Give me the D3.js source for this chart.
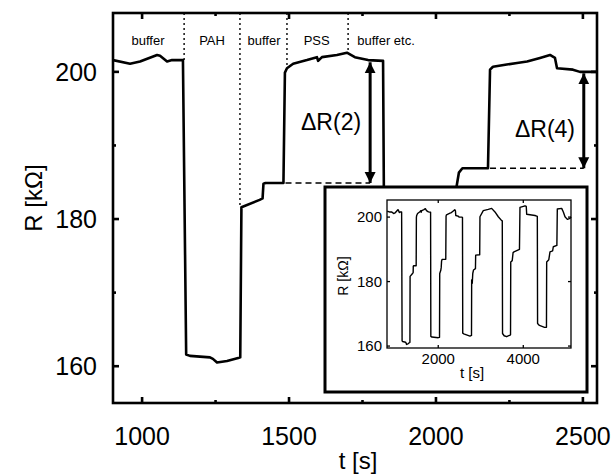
<!doctype html>
<html lang="en">
<head>
<meta charset="utf-8" />
<title>R vs t</title>
<script src="https://d3js.org/d3.v7.min.js"></script>
<style>
  body { margin: 0; background: #fff; }
  text { font-family: "Liberation Sans", Arial, sans-serif; fill: #000; }
</style>
</head>
<body>
<div id="chart"></div>
<script>
// measured resistance trace (t in s, R in kOhm)
const times = [800, 850, 901, 959, 993, 1051, 1061, 1085, 1102, 1139,
  1150, 1163, 1231, 1241, 1255, 1289, 1327, 1334,
  1338, 1400, 1410, 1413, 1420, 1481,
  1486, 1493, 1514, 1561, 1595, 1599, 1612, 1663, 1697, 1724, 1769, 1820,
  1826, 1850, 2000, 2030,
  2035, 2060, 2070, 2078, 2090, 2177,
  2184, 2194, 2241, 2276, 2310, 2354, 2388, 2405, 2412, 2466, 2490, 2548, 2570,
  2576, 2600, 2746, 2782,
  2786, 2800, 2812, 2830, 2875, 2880, 2975,
  2981, 3059, 3176, 3256, 3334, 3412, 3492, 3506,
  3512, 3550, 3609, 3687, 3700,
  3705, 3740, 3760, 3781, 3910,
  3922, 4040, 4070, 4080, 4275, 4315, 4330,
  4336, 4380, 4500, 4545,
  4550, 4600, 4628, 4690, 4706, 4790,
  4800, 4903, 4942, 4981, 5036, 5099, 5122];
const resist = [201.8, 201.6, 201.6, 201.1, 201.4, 202.3, 202.2, 201.4, 201.6, 201.6,
  161.6, 161.4, 161.2, 161.0, 160.5, 160.7, 161.1, 161.2,
  181.6, 182.6, 182.8, 184.8, 184.9, 184.9,
  199.9, 200.5, 201.1, 201.6, 202.0, 201.5, 202.0, 202.3, 202.6, 202.0, 201.6, 201.5,
  163.0, 162.8, 162.6, 162.7,
  182.5, 183.5, 184.4, 186.3, 186.9, 186.9,
  200.3, 200.7, 201.0, 201.2, 201.4, 201.9, 202.3, 201.9, 200.5, 200.3, 200.0, 200.0, 199.9,
  164.0, 163.8, 163.1, 163.3,
  180.5, 179.5, 182.5, 183.6, 184.0, 188.2, 188.3,
  200.1, 202.0, 202.4, 202.7, 201.6, 200.1, 198.9, 198.8,
  163.9, 163.2, 162.9, 163.4, 163.5,
  186.1, 186.5, 189.0, 189.2, 190.0,
  203.0, 203.5, 203.3, 200.9, 200.5, 200.3, 200.2,
  167.0, 166.4, 165.8, 165.8,
  186.1, 186.8, 189.2, 189.5, 190.8, 191.2,
  202.5, 202.7, 201.6, 200.1, 199.3, 199.6, 200.1];

// solution phases
const dividerT = [1143, 1333, 1493, 1701];
const dividerR = [201.6, 181.6, 200.4, 202.6];
const phaseNames = ["buffer", "PAH", "buffer", "PSS", "buffer etc."];
const phaseT = [1020, 1238, 1415, 1594, 1830];

// Delta R annotations
const deltaNames = ["\u0394R(2)", "\u0394R(4)"];
const deltaT = [1776, 2503];
const deltaTop = [201.3, 199.8];
const deltaBase = [184.9, 186.9];
const deltaStart = [1488, 2184];
const deltaLabelT = [1643, 2371];
const deltaLabelR = [192.1, 191.2];

const xTicks = [1000, 1500, 2000, 2500];
const xMinor = [1250, 1750, 2250];
const yTicks = [160, 180, 200];
const yMinor = [170, 190];
const insetXTicks = [2000, 4000];
const insetYTicks = [160, 180, 200];

const data = times.map((t, i) => ({ t: t, r: resist[i] }));

const W = 614, H = 475;
const margin = { top: 13, right: 17, bottom: 72, left: 113 },
  width = W - margin.left - margin.right,
  height = H - margin.top - margin.bottom;

const svg = d3.select("#chart").append("svg")
  .attr("width", W).attr("height", H);

const defs = svg.append("defs");
defs.append("clipPath").attr("id", "clipMain")
  .append("rect").attr("width", width).attr("height", height);
defs.append("marker").attr("id", "head")
  .attr("viewBox", "0 0 10 10")
  .attr("refX", 10).attr("refY", 5)
  .attr("markerUnits", "userSpaceOnUse")
  .attr("markerWidth", 11).attr("markerHeight", 12)
  .attr("orient", "auto-start-reverse")
  .append("path").attr("d", "M0,0L10,5L0,10z").attr("fill", "#000");

const g = svg.append("g").attr("transform", `translate(${margin.left},${margin.top})`);

const x = d3.scaleLinear().domain([901, 2548]).range([0, width]);
const y = d3.scaleLinear().domain([155, 208]).range([height, 0]);

// dotted phase dividers
g.selectAll(".divider").data(dividerT).enter().append("line")
  .attr("x1", d => x(d)).attr("x2", d => x(d))
  .attr("y1", 0).attr("y2", (d, i) => y(dividerR[i]))
  .attr("stroke", "#000").attr("stroke-width", 1.4)
  .attr("stroke-dasharray", "2,3");

g.selectAll(".phase").data(phaseNames).enter().append("text")
  .attr("x", (d, i) => x(phaseT[i]))
  .attr("y", y(203.7))
  .attr("text-anchor", "middle")
  .style("font-size", "13px")
  .text(d => d);

const line = d3.line().x(d => x(d.t)).y(d => y(d.r));
g.append("path").datum(data)
  .attr("clip-path", "url(#clipMain)")
  .attr("fill", "none").attr("stroke", "#000")
  .attr("stroke-width", 2.6).attr("stroke-linejoin", "round")
  .attr("d", line);

// dashed baselines + double arrows
g.selectAll(".base").data(deltaT).enter().append("line")
  .attr("x1", (d, i) => x(deltaStart[i])).attr("x2", d => x(d))
  .attr("y1", (d, i) => y(deltaBase[i])).attr("y2", (d, i) => y(deltaBase[i]))
  .attr("stroke", "#000").attr("stroke-width", 1.4)
  .attr("stroke-dasharray", "6,4");

g.selectAll(".arrow").data(deltaT).enter().append("line")
  .attr("x1", d => x(d)).attr("x2", d => x(d))
  .attr("y1", (d, i) => y(deltaTop[i])).attr("y2", (d, i) => y(deltaBase[i]))
  .attr("stroke", "#000").attr("stroke-width", 3)
  .attr("marker-start", "url(#head)").attr("marker-end", "url(#head)");

g.selectAll(".dlabel").data(deltaNames).enter().append("text")
  .attr("x", (d, i) => x(deltaLabelT[i]))
  .attr("y", (d, i) => y(deltaLabelR[i]))
  .attr("text-anchor", "middle")
  .style("font-size", "23px")
  .text(d => d);

// frame with inward ticks on all four sides
function frame(sel, xs, ys, xt, xm, yt, ym, w, h, big, small, sw) {
  sel.append("rect").attr("width", w).attr("height", h)
    .attr("fill", "none").attr("stroke", "#000").attr("stroke-width", sw);
  const tk = sel.append("g").attr("stroke", "#000").attr("stroke-width", sw);
  xt.concat(xm).forEach((v, i) => {
    const len = i < xt.length ? big : small;
    tk.append("line").attr("x1", xs(v)).attr("x2", xs(v)).attr("y1", h).attr("y2", h - len);
    tk.append("line").attr("x1", xs(v)).attr("x2", xs(v)).attr("y1", 0).attr("y2", len);
  });
  yt.concat(ym).forEach((v, i) => {
    const len = i < yt.length ? big : small;
    tk.append("line").attr("y1", ys(v)).attr("y2", ys(v)).attr("x1", 0).attr("x2", len);
    tk.append("line").attr("y1", ys(v)).attr("y2", ys(v)).attr("x1", w).attr("x2", w - len);
  });
}

frame(g, x, y, xTicks, xMinor, yTicks, yMinor, width, height, 6, 3, 2.6);

g.selectAll(".xl").data(xTicks).enter().append("text")
  .attr("x", d => x(d)).attr("y", height + 42)
  .attr("text-anchor", "middle").style("font-size", "25px")
  .text(d => d);
g.selectAll(".yl").data(yTicks).enter().append("text")
  .attr("x", -16).attr("y", d => y(d)).attr("dy", "0.36em")
  .attr("text-anchor", "end").style("font-size", "25px")
  .text(d => d);

svg.append("text").attr("x", 358).attr("y", 469)
  .attr("text-anchor", "middle").style("font-size", "24px").text("t [s]");
svg.append("text").attr("transform", "translate(42,198) rotate(-90)")
  .attr("text-anchor", "middle").style("font-size", "24px").text("R [k\u03a9]");

// inset: the full run
svg.append("rect").attr("x", 325).attr("y", 187).attr("width", 262).attr("height", 205)
  .attr("fill", "#fff").attr("stroke", "#000").attr("stroke-width", 3);

const iw = 184, ih = 148;
const gi = svg.append("g").attr("transform", "translate(387,200)");
const xi = d3.scaleLinear().domain([795, 5122]).range([0, iw]);
const yi = d3.scaleLinear().domain([159.4, 205.3]).range([ih, 0]);

gi.append("path").datum(data)
  .attr("fill", "none").attr("stroke", "#000")
  .attr("stroke-width", 1.4).attr("stroke-linejoin", "round")
  .attr("d", d3.line().x(d => xi(d.t)).y(d => yi(d.r)));

frame(gi, xi, yi, insetXTicks, [], insetYTicks, [], iw, ih, 3, 2, 1.3);

gi.selectAll(".ixl").data(insetXTicks).enter().append("text")
  .attr("x", d => xi(d)).attr("y", ih + 16)
  .attr("text-anchor", "middle").style("font-size", "15px")
  .text(d => d);
gi.selectAll(".iyl").data(insetYTicks).enter().append("text")
  .attr("x", -5).attr("y", d => yi(d)).attr("dy", "0.36em")
  .attr("text-anchor", "end").style("font-size", "15px")
  .text(d => d);
svg.append("text").attr("x", 472).attr("y", 378)
  .attr("text-anchor", "middle").style("font-size", "15px").text("t [s]");
svg.append("text").attr("transform", "translate(348,276) rotate(-90)")
  .attr("text-anchor", "middle").style("font-size", "14px").text("R [k\u03a9]");
</script>
</body>
</html>
